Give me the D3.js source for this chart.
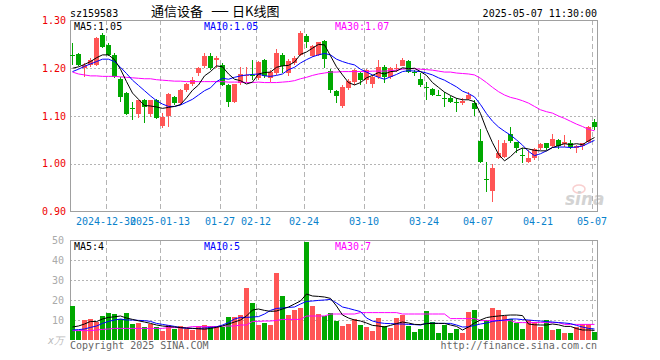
<!DOCTYPE html>
<html lang='zh'>
<head>
<meta charset='utf-8'>
<title>通信设备 日K线图</title>
<script src="https://d3js.org/d3.v7.min.js"></script>
<style>
	body { margin: 0; background: #fff; }
	svg text { font-family: 'DejaVu Sans Mono', monospace; font-size: 10px; }
</style>
</head>
<body>
<div class='visHolder'></div>
<script>
// trading days shown (2024-12-20 .. 2025-05-07)
var dates = ['12-20','12-23','12-24','12-25','12-26','12-27','12-30','12-31','01-02','01-03',
	'01-06','01-07','01-08','01-09','01-10','01-13','01-14','01-15','01-16','01-17',
	'01-20','01-21','01-22','01-23','01-24','01-27','02-05','02-06','02-07','02-10',
	'02-11','02-12','02-13','02-14','02-17','02-18','02-19','02-20','02-21','02-24',
	'02-25','02-26','02-27','02-28','03-03','03-04','03-05','03-06','03-07','03-10',
	'03-11','03-12','03-13','03-14','03-17','03-18','03-19','03-20','03-21','03-24',
	'03-25','03-26','03-27','03-28','03-31','04-01','04-02','04-03','04-07','04-08',
	'04-09','04-10','04-11','04-14','04-15','04-16','04-17','04-18','04-21','04-22',
	'04-23','04-24','04-25','04-28','04-29','04-30','05-06','05-07'];

var opens = [1.228,1.229,1.200,1.207,1.207,1.270,1.249,1.228,1.177,1.149,
	1.116,1.104,1.134,1.104,1.134,1.079,1.099,1.139,1.127,1.155,
	1.167,1.190,1.204,1.226,1.217,1.207,1.165,1.130,1.169,1.184,
	1.186,1.179,1.217,1.179,1.190,1.228,1.190,1.211,1.228,1.268,
	1.226,1.228,1.258,1.195,1.153,1.121,1.158,1.172,1.190,1.175,
	1.167,1.182,1.203,1.181,1.200,1.205,1.215,1.193,1.178,1.160,
	1.156,1.144,1.137,1.138,1.130,1.127,1.136,1.128,1.048,0.968,
	0.943,1.011,1.015,1.062,1.045,1.018,1.004,1.011,1.034,1.043,
	1.037,1.050,1.041,1.044,1.034,1.037,1.046,1.088];
var highs = [1.252,1.231,1.211,1.222,1.265,1.273,1.252,1.232,1.182,1.151,
	1.130,1.134,1.135,1.134,1.135,1.106,1.148,1.141,1.156,1.169,
	1.182,1.203,1.232,1.232,1.225,1.212,1.168,1.168,1.203,1.203,
	1.217,1.216,1.219,1.197,1.240,1.232,1.219,1.226,1.277,1.272,
	1.249,1.256,1.259,1.198,1.155,1.165,1.177,1.198,1.193,1.199,
	1.186,1.217,1.207,1.203,1.209,1.221,1.217,1.197,1.190,1.172,
	1.158,1.155,1.151,1.141,1.137,1.137,1.150,1.134,1.073,1.004,
	0.999,1.050,1.050,1.076,1.046,1.032,1.029,1.032,1.044,1.044,
	1.062,1.051,1.060,1.050,1.039,1.044,1.079,1.093];
var lows = [1.207,1.204,1.182,1.203,1.205,1.242,1.225,1.179,1.130,1.102,
	1.092,1.095,1.085,1.097,1.093,1.074,1.078,1.123,1.123,1.151,
	1.162,1.183,1.200,1.197,1.200,1.162,1.118,1.127,1.165,1.172,
	1.175,1.175,1.179,1.172,1.186,1.190,1.183,1.207,1.225,1.242,
	1.224,1.226,1.200,1.148,1.127,1.116,1.155,1.165,1.165,1.168,
	1.158,1.177,1.170,1.177,1.193,1.204,1.190,1.183,1.161,1.134,
	1.141,1.141,1.118,1.127,1.109,1.123,1.134,1.100,1.002,0.941,
	0.920,1.009,1.011,1.044,1.022,1.001,1.002,1.008,1.029,1.029,
	1.034,1.030,1.036,1.030,1.023,1.029,1.043,1.071];
var closes = [1.228,1.206,1.206,1.217,1.263,1.245,1.228,1.182,1.139,1.104,
	1.116,1.134,1.118,1.134,1.095,1.097,1.146,1.127,1.155,1.166,
	1.175,1.201,1.225,1.200,1.222,1.165,1.130,1.167,1.187,1.186,
	1.186,1.214,1.183,1.193,1.232,1.204,1.216,1.222,1.273,1.254,
	1.247,1.254,1.219,1.155,1.142,1.161,1.173,1.196,1.176,1.196,
	1.182,1.203,1.182,1.201,1.201,1.217,1.193,1.190,1.164,1.160,
	1.144,1.144,1.137,1.129,1.130,1.132,1.144,1.114,1.004,0.968,
	0.992,1.022,1.043,1.048,1.032,1.018,1.013,1.030,1.042,1.032,
	1.051,1.037,1.046,1.036,1.038,1.043,1.078,1.078];

var ma5 = [1.200,1.203,1.208,1.214,1.222,1.228,1.228,1.218,1.198,1.172,
	1.148,1.135,1.122,1.121,1.119,1.116,1.118,1.120,1.124,1.138,
	1.154,1.165,1.184,1.193,1.205,1.203,1.188,1.177,1.174,1.167,
	1.171,1.188,1.191,1.192,1.202,1.205,1.206,1.213,1.229,1.234,
	1.242,1.250,1.249,1.226,1.203,1.186,1.170,1.165,1.170,1.180,
	1.185,1.191,1.188,1.193,1.194,1.201,1.199,1.200,1.193,1.185,
	1.170,1.160,1.150,1.143,1.137,1.134,1.134,1.130,1.105,1.072,
	1.044,1.020,1.006,1.015,1.027,1.033,1.031,1.028,1.027,1.027,
	1.034,1.038,1.042,1.040,1.042,1.040,1.048,1.055];
var ma10 = [1.193,1.198,1.204,1.209,1.214,1.219,1.219,1.214,1.202,1.189,
	1.175,1.164,1.153,1.142,1.132,1.125,1.120,1.120,1.123,1.129,
	1.135,1.144,1.153,1.159,1.172,1.179,1.177,1.181,1.184,1.186,
	1.187,1.188,1.184,1.183,1.185,1.188,1.197,1.202,1.211,1.218,
	1.224,1.228,1.231,1.228,1.219,1.214,1.210,1.207,1.198,1.192,
	1.186,1.181,1.177,1.182,1.187,1.193,1.195,1.194,1.193,1.190,
	1.186,1.180,1.175,1.168,1.161,1.152,1.147,1.140,1.124,1.105,
	1.089,1.077,1.068,1.060,1.050,1.039,1.026,1.017,1.021,1.027,
	1.034,1.035,1.035,1.034,1.035,1.037,1.043,1.049];
var ma30 = [1.192,1.188,1.186,1.184,1.184,1.183,1.183,1.183,1.182,1.181,
	1.180,1.179,1.178,1.178,1.176,1.175,1.174,1.173,1.173,1.172,
	1.172,1.172,1.172,1.172,1.172,1.172,1.171,1.171,1.171,1.170,
	1.170,1.171,1.170,1.170,1.170,1.171,1.172,1.174,1.178,1.181,
	1.185,1.188,1.190,1.192,1.192,1.193,1.193,1.193,1.193,1.193,
	1.194,1.194,1.194,1.195,1.196,1.198,1.199,1.199,1.198,1.197,
	1.196,1.194,1.192,1.192,1.190,1.189,1.188,1.186,1.179,1.170,
	1.160,1.151,1.144,1.139,1.136,1.132,1.127,1.120,1.113,1.109,
	1.106,1.100,1.095,1.089,1.083,1.078,1.072,1.069];

// volume, unit: 万
var volumes = [17,4.5,10,10.5,9,12,13.5,13,10.5,13.5,
	8,8.5,6.5,8,6.5,4.5,7.5,5.5,7,5.5,
	5,7,7.5,7,7,6.3,11.7,11.7,12.5,26,
	18.7,7.5,8.7,7.5,33.7,22,12.5,15,16.2,49,
	17,13,12,13.7,9.7,7,8,10.5,7.5,6.3,
	4.7,11,7,6.2,11,12.3,7,4.2,5.5,14.5,
	8.8,3.7,7.5,3.7,5.5,3.7,14.2,15,5.5,10,
	16,15,12,10.3,8.7,5.5,10,9.2,6.3,10,
	5,5.5,3.7,3.7,6.3,8,8,4.2];
var volMa5 = [6.5,7,8,9.3,9.2,10.5,11.3,11.6,12,11,
	10.3,9.6,9,8.3,7.5,7,6.7,6.5,6.2,6,
	5.8,5.6,5.4,5.8,6.3,7,8,9,10,12,
	15,15.5,14.8,14.3,14.5,15.5,16.5,18,19.5,23,
	22,21.8,21.5,20.8,17,12.5,11,10,9.5,8.5,
	7.3,7,6.5,7.3,8.2,9,8.5,7.8,7.7,8.2,
	8.3,8.3,8.3,7.5,6.8,5,6.5,8.5,10,11.2,
	11.7,12,12.3,12.5,12.5,12.2,8,7.6,7.5,7.5,
	8,7.6,6.8,6.8,5.7,5,5,4.8];
var volMa10 = [5,5.2,5.5,6.3,7,8.3,9.3,10,10.5,10,
	10,9.8,9.7,9.3,8.3,7.8,7.3,6.8,6.2,5.8,
	5.8,5.8,6,6.2,6.6,7.5,8.7,10.5,11.3,11.3,
	11.5,11.7,13,14.8,15.8,16,16.3,16.5,18,19.3,
	19.5,19.8,20,20.3,18.5,16.5,15.8,15,14.2,11,
	9.5,8.7,8.3,8.2,8,8,7.8,7.7,7.5,8.3,
	8.4,8.3,8.3,8.3,7.5,6.5,6.6,7.3,8,8.5,
	9.3,9.7,10,10.5,10.5,10.2,10,9.7,9.5,9.2,
	9,8.7,8.5,8.2,7.3,6.5,5.8,5.5];
var volMa30 = [4.7,4.7,4.7,4.7,5.0,5.3,5.5,5.8,5.8,5.8,
	5.8,5.8,5.8,5.8,5.8,5.8,6.2,6.2,6.2,6.2,
	6.7,6.7,6.7,6.7,6.7,7.0,7.0,7.0,7.5,7.5,
	9.3,9.3,9.5,9.5,9.8,10.3,10.3,10.3,10.3,12,
	12,12,12,13,13,13,13,13,13.7,13.7,
	13.7,13.7,13.7,13.7,13.7,13,13,13,13,13,
	13,13,13,10.7,10.7,10.7,10.7,10.7,9.7,9.7,
	9.7,9.7,9.7,9.7,8.7,8.7,8.7,8.7,8.7,8.7,
	8.7,8.7,7.8,7.8,7.8,7.8,7.8,7.8];

var tickDates = ['12-30','01-13','01-27','02-12','02-24','03-10','03-24','04-07','04-21','05-07'];
var tickLabels = ['2024-12-30','2025-01-13','01-27','02-12','02-24','03-10','03-24','04-07','04-21','05-07'];
var priceTicks = [1.30, 1.20, 1.10, 1.00, 0.90];
var volTicks = [50, 40, 30, 20, 10];

var width = 660, height = 360,
		left = 70, right = 597,
		pTop = 20, pBottom = 211,
		vTop = 240, vBottom = 340;

var red = '#ff5555', green = '#00a800', frameColor = '#a0a0a0', gridColor = '#b4b4b4';

var svg = d3.select('.visHolder').append('svg')
	.attr('width', width)
	.attr('height', height);

var x = d3.scaleBand()
	.domain(dates)
	.range([left, left + 6 * dates.length]);
var y = d3.scaleLinear().domain([0.90, 1.30]).range([pBottom + 0.5, pTop + 0.5]);
var yv = d3.scaleLinear().domain([0, 50]).range([vBottom, vTop]);

function isUp(i) { return closes[i] > opens[i]; }

// header
svg.append('text').attr('x', left).attr('y', 16.5).text('sz159583');
var title = svg.append('g')
	.style('font-family', "'Noto Sans CJK SC', sans-serif")
	.style('font-size', '13px');
title.append('text').attr('x', 151).attr('y', 16).style('font-family', 'inherit').style('font-size', 'inherit').text('通信设备');
title.append('text').attr('x', 211).attr('y', 16).style('font-family', 'inherit').style('font-size', 'inherit')
	.attr('textLength', 18).attr('lengthAdjust', 'spacingAndGlyphs').text('一');
title.append('text').attr('x', 232).attr('y', 16).style('font-family', 'inherit').style('font-size', 'inherit').text('日K线图');
svg.append('text').attr('x', right).attr('y', 16.5).attr('text-anchor', 'end').text('2025-05-07 11:30:00');

// grids
var grid = svg.append('g').attr('stroke', gridColor).attr('stroke-width', 1).attr('shape-rendering', 'crispEdges');
grid.selectAll('.hp').data(priceTicks.slice(1, -1)).enter().append('line')
	.attr('x1', left).attr('x2', right)
	.attr('y1', function(d) { return Math.round(y(d)) + 0.5; })
	.attr('y2', function(d) { return Math.round(y(d)) + 0.5; })
	.attr('stroke-dasharray', '2,2');
grid.selectAll('.hv').data(volTicks.slice(1)).enter().append('line')
	.attr('x1', left).attr('x2', right)
	.attr('y1', function(d) { return Math.round(yv(d)) + 0.5; })
	.attr('y2', function(d) { return Math.round(yv(d)) + 0.5; })
	.attr('stroke-dasharray', '2,2');
[[pTop, pBottom], [vTop, vBottom]].forEach(function(r) {
	grid.selectAll(null).data(tickDates).enter().append('line')
		.attr('x1', function(d) { return x(d) + 0.5; })
		.attr('x2', function(d) { return x(d) + 0.5; })
		.attr('y1', r[0]).attr('y2', r[1])
		.attr('stroke-dasharray', '5,3');
});

// sina watermark
var wm = svg.append('g').attr('opacity', 0.5);
wm.append('ellipse').attr('cx', 579).attr('cy', 189).attr('rx', 6).attr('ry', 4)
	.attr('fill', 'none').attr('stroke', '#f4a0a0').attr('stroke-width', 1.5);
wm.append('text').attr('x', 565).attr('y', 205)
	.style('font-family', "'DejaVu Sans', sans-serif").style('font-size', '17px')
	.style('font-weight', 'bold').style('font-style', 'italic')
	.attr('fill', '#a8a8a8').text('sina');

// frames
var frame = svg.append('g').attr('fill', 'none').attr('stroke', frameColor).attr('shape-rendering', 'crispEdges');
frame.append('path').attr('d', 'M' + (left + 0.5) + ',' + (pBottom + 0.5) + 'V' + (pTop + 0.5) + 'H' + (right + 0.5) + 'V' + (pBottom + 0.5) + 'H' + (left + 0.5));
frame.append('path').attr('d', 'M' + (left + 0.5) + ',' + vBottom + 'V' + (vTop + 0.5) + 'H' + (right + 0.5) + 'V' + vBottom);

// candles
var candles = svg.append('g').attr('shape-rendering', 'crispEdges');
candles.selectAll('.wick').data(dates).enter().append('line')
	.attr('x1', function(d) { return x(d) + 2.5; })
	.attr('x2', function(d) { return x(d) + 2.5; })
	.attr('y1', function(d, i) { return y(highs[i]); })
	.attr('y2', function(d, i) { return y(lows[i]); })
	.attr('stroke', function(d, i) { return isUp(i) ? red : green; });
candles.selectAll('.body').data(dates).enter().append('rect')
	.attr('x', function(d) { return x(d); })
	.attr('width', 5)
	.attr('y', function(d, i) { return y(Math.max(opens[i], closes[i])); })
	.attr('height', function(d, i) { return Math.max(1, Math.abs(y(opens[i]) - y(closes[i]))); })
	.attr('fill', function(d, i) { return isUp(i) ? red : green; });

// volume bars
svg.append('g').attr('shape-rendering', 'crispEdges')
	.selectAll('rect').data(volumes).enter().append('rect')
	.attr('x', function(d, i) { return x(dates[i]); })
	.attr('width', 5)
	.attr('y', function(d) { return yv(d); })
	.attr('height', function(d) { return vBottom - yv(d); })
	.attr('fill', function(d, i) { return isUp(i) ? red : green; });

// moving averages
function drawLine(values, scale, color) {
	var line = d3.line()
		.x(function(d, i) { return x(dates[i]) + 2.5; })
		.y(function(d) { return scale(d); });
	svg.append('path').datum(values)
		.attr('d', line)
		.attr('fill', 'none')
		.attr('stroke', color)
		.attr('stroke-width', 1);
}
drawLine(ma30, y, '#ff00ff');
drawLine(ma10, y, '#0000ff');
drawLine(ma5, y, '#000000');
drawLine(volMa30, yv, '#ff00ff');
drawLine(volMa10, yv, '#0000ff');
drawLine(volMa5, yv, '#000000');

// legends
function legend(yPos, items) {
	items.forEach(function(it) {
		svg.append('text').attr('x', it[0]).attr('y', yPos).attr('fill', it[2]).text(it[1]);
	});
}
legend(29.5, [[74, 'MA5:1.05', '#000'], [204, 'MA10:1.05', '#0000ff'], [335, 'MA30:1.07', '#ff00ff']]);
legend(249.5, [[74, 'MA5:4', '#000'], [204, 'MA10:5', '#0000ff'], [335, 'MA30:7', '#ff00ff']]);

// axes
var yAxis = svg.append('g')
	.attr('transform', 'translate(' + left + ',0)')
	.call(d3.axisLeft(y).tickValues(priceTicks).tickSize(0).tickPadding(4).tickFormat(d3.format('.2f')));
var vAxis = svg.append('g')
	.attr('transform', 'translate(' + left + ',0)')
	.call(d3.axisLeft(yv).tickValues(volTicks).tickSize(0).tickPadding(6));
var xAxis = svg.append('g')
	.attr('transform', 'translate(-3,' + (pBottom + 1) + ')')
	.call(d3.axisBottom(x).tickValues(tickDates).tickSize(0).tickPadding(6)
		.tickFormat(function(d) { return tickLabels[tickDates.indexOf(d)]; }));
[yAxis, vAxis, xAxis].forEach(function(g) {
	g.select('.domain').remove();
	g.attr('font-family', "'DejaVu Sans Mono', monospace").attr('font-size', 10);
});
yAxis.selectAll('text').attr('fill', '#ee0000');
vAxis.selectAll('text').attr('fill', '#aaaaaa');
xAxis.selectAll('text').attr('fill', '#0a82cc');

svg.append('text').attr('x', 64).attr('y', 344).attr('text-anchor', 'end')
	.attr('fill', '#bbbbbb').style('font-style', 'italic').text('x万');

// footer
svg.append('text').attr('x', left).attr('y', 349).attr('fill', '#666').text('Copyright 2025 SINA.COM');
svg.append('text').attr('x', right).attr('y', 349).attr('text-anchor', 'end').attr('fill', '#666').text('http://finance.sina.com.cn');
</script>
</body>
</html>
